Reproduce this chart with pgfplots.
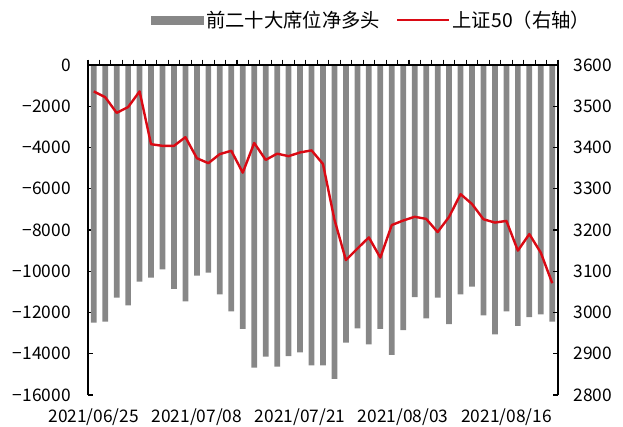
\documentclass[border=0pt]{standalone}
\usepackage{fontspec}
\setmainfont{Noto Sans CJK SC}
\usepackage{pgfplots}
\pgfplotsset{compat=1.18}
\definecolor{bargray}{HTML}{878787}
\definecolor{linered}{HTML}{DA0A14}
\begin{document}
\begin{tikzpicture}[font=\fontsize{13}{15}\selectfont]
\pgfplotsset{
  every axis/.append style={scale only axis, width=352.5pt, height=247.5pt,
    xmin=-0.5, xmax=40.5, major tick length=4pt,
    every tick/.style={black, line width=0.8pt},
    axis line style={line width=0.8pt}},
}
% bars, left axis
\begin{axis}[
  ymin=-16000, ymax=0,
  axis y line*=left, axis x line=none,
  tick align=inside,
  scaled y ticks=false,
  ytick={-16000,-14000,-12000,-10000,-8000,-6000,-4000,-2000,0},
  yticklabels={−16000,−14000,−12000,−10000,−8000,−6000,−4000,−2000,0},
  yticklabel style={xshift=-9.5pt},
]
\coordinate (SW) at (rel axis cs:0,0);
\addplot[ybar, bar width=0.5, fill=bargray, draw=none] coordinates {
(0,-12490) (1,-12440) (2,-11280) (3,-11650) (4,-10500) (5,-10310) (6,-9910) (7,-10860)
(8,-11460) (9,-10210) (10,-10070) (11,-11120) (12,-11940) (13,-12800) (14,-14670) (15,-14140)
(16,-14630) (17,-14110) (18,-13930) (19,-14560) (20,-14560) (21,-15220) (22,-13460) (23,-12770)
(24,-13540) (25,-12800) (26,-14060) (27,-12860) (28,-11260) (29,-12280) (30,-11280) (31,-12560)
(32,-11120) (33,-10750) (34,-12140) (35,-13060) (36,-11940) (37,-12650) (38,-12230) (39,-12090)
(40,-12440)
};
\end{axis}
% top x axis
\begin{axis}[
  ymin=0, ymax=1,
  axis x line*=top, axis y line=none,
  tick align=outside,
  xtick={-0.5,0.5,...,40.5}, xticklabels={},
]
\end{axis}
% line, right axis
\begin{axis}[
  ymin=2800, ymax=3600,
  axis y line*=right, axis x line*=bottom,
  x axis line style={draw=none},
  tick align=inside,
  xtick={0,9,18,27,36},
  xticklabels={2021/06/25,2021/07/08,2021/07/21,2021/08/03,2021/08/16},
  xtick style={draw=none},
  xticklabel style={yshift=-6.5pt},
  ytick={2800,2900,...,3600},
  yticklabels={2800,2900,3000,3100,3200,3300,3400,3500,3600},
  yticklabel style={xshift=8pt},
  legend columns=2,
  legend cell align=left,
  legend style={draw=none, fill=none, at={(0.125,1.136)}, anchor=west,
    font=\fontsize{14.5}{16}\selectfont,
    /tikz/every even column/.append style={column sep=10pt}},
]
\addlegendimage{legend image code/.code={\fill[bargray] (0pt,-3pt) rectangle (39pt,3pt);}}
\addlegendentry{前二十大席位净多头}
\addplot[linered, line width=1.8pt, mark=none, line join=round,
  legend image code/.code={\draw[linered, line width=1.3pt] (0pt,0pt) -- (39pt,0pt);}] coordinates {
(0,3536) (1,3522) (2,3484) (3,3498) (4,3536) (5,3408) (6,3404) (7,3404)
(8,3425) (9,3374) (10,3362) (11,3384) (12,3392) (13,3339) (14,3411) (15,3370)
(16,3385) (17,3379) (18,3388) (19,3393) (20,3360) (21,3225) (22,3127) (23,3155)
(24,3182) (25,3133) (26,3212) (27,3223) (28,3232) (29,3227) (30,3195) (31,3232)
(32,3287) (33,3263) (34,3226) (35,3218) (36,3222) (37,3150) (38,3190) (39,3145)
(40,3071)
};
\addlegendentry{上证50（右轴）}
\end{axis}
\pgfresetboundingbox
\path[use as bounding box] (SW) ++(-66pt,-24pt) rectangle ++(467.25pt,320.25pt);
\end{tikzpicture}
\end{document}
